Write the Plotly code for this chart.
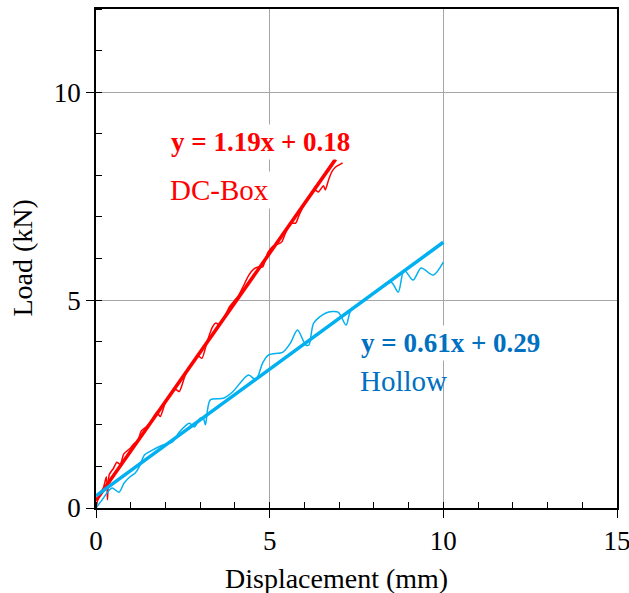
import plotly.graph_objects as go

# DC-Box raw load-displacement data
dcbox_x = [0, 0.1, 0.2, 0.3, 0.33, 0.38, 0.5, 0.6, 0.7, 0.8, 1.0, 1.1, 1.2, 1.3, 1.45, 1.6, 1.75, 1.85,
           2.0, 2.15, 2.3, 2.4, 2.55, 2.65, 2.8, 2.95, 3.05, 3.2, 3.35, 3.45, 3.55, 3.7, 3.85, 4.0, 4.1,
           4.25, 4.4, 4.55, 4.7, 4.8, 4.95, 5.1, 5.25, 5.35, 5.45, 5.6, 5.75, 5.85, 6.0, 6.15, 6.3, 6.4,
           6.55, 6.6, 6.7, 6.8, 6.9, 7.0, 7.1]
dcbox_y = [0, 0.35, 0.45, 0.75, 0.2, 0.8, 0.95, 1.1, 1.05, 1.3, 1.45, 1.55, 1.6, 1.85, 1.95, 2.1, 2.3, 2.2,
           2.55, 2.75, 2.85, 2.8, 3.15, 3.35, 3.5, 3.65, 3.6, 4.0, 4.35, 4.45, 4.4, 4.6, 4.85, 5.0, 5.1,
           5.35, 5.6, 5.75, 5.8, 5.8, 6.15, 6.3, 6.35, 6.4, 6.6, 6.85, 6.85, 7.05, 7.3, 7.5, 7.65, 7.6,
           7.75, 7.65, 7.9, 8.1, 8.2, 8.25, 8.3]

# Hollow raw load-displacement data
hollow_x = [0, 0.17, 0.46, 0.66, 0.81, 0.98, 1.13, 1.27, 1.39, 1.62, 1.91, 2.2, 2.4, 2.69, 2.83, 3.0,
            3.09, 3.15, 3.29, 3.67, 3.93, 4.39, 4.6, 4.8, 4.97, 5.38, 5.6, 5.8, 6.04, 6.13, 6.27, 6.62,
            6.97, 7.2, 7.34, 7.72, 8.12, 8.5, 8.7, 8.87, 9.13, 9.36, 9.71, 10.0]
hollow_y = [0, 0.19, 0.48, 0.38, 0.6, 0.75, 0.84, 1.03, 1.27, 1.39, 1.51, 1.59, 1.83, 2.04, 1.95, 2.16,
            2.16, 2.0, 2.6, 2.64, 2.79, 3.2, 3.08, 3.49, 3.68, 3.75, 3.97, 4.28, 3.92, 3.92, 4.45, 4.69,
            4.71, 4.4, 4.76, 5.0, 5.24, 5.43, 5.19, 5.72, 5.48, 5.77, 5.6, 5.91]

# Linear fits (end points)
dcbox_fit_x = [0, 6.9]
dcbox_fit_y = [0.18, 8.39]
hollow_fit_x = [0, 10]
hollow_fit_y = [0.29, 6.39]

x_ticks = [0, 5, 10, 15]
y_ticks = [0, 5, 10]

RED = "#ff0000"
BLUE = "#00b0f0"
DBLUE = "#0070c0"
FONT = "Liberation Serif"

fig = go.Figure()
fig.add_trace(go.Scatter(x=dcbox_x, y=dcbox_y, mode="lines", line=dict(color=RED, width=1.5, shape="spline", smoothing=0.6)))
fig.add_trace(go.Scatter(x=hollow_x, y=hollow_y, mode="lines", line=dict(color=BLUE, width=1.5, shape="spline", smoothing=0.8)))
fig.add_trace(go.Scatter(x=dcbox_fit_x, y=dcbox_fit_y, mode="lines", line=dict(color=RED, width=3.5)))
fig.add_trace(go.Scatter(x=hollow_fit_x, y=hollow_fit_y, mode="lines", line=dict(color=BLUE, width=3.5)))

axis_common = dict(
    showline=True, linecolor="black", linewidth=1.5, mirror=True,
    showgrid=True, gridcolor="#a6a6a6", gridwidth=1,
    ticks="outside", ticklen=8, tickcolor="black", tickwidth=1,
    zeroline=False,
    tickfont=dict(family=FONT, size=27, color="black"),
    minor=dict(dtick=1, ticks="inside", ticklen=6, tickcolor="black", tickwidth=1, showgrid=False),
    automargin=False,
    ticklabeloverflow="allow",
)

fig.update_xaxes(range=[0, 15], tickvals=x_ticks, **axis_common)
fig.update_yaxes(range=[0, 12], tickvals=y_ticks, **axis_common)

# Axis titles (paper coords relative to the plot area)
fig.add_annotation(x=0.4607, y=-0.1403, xref="paper", yref="paper", text="Displacement (mm)",
                   showarrow=False, xanchor="center", yanchor="middle",
                   font=dict(family=FONT, size=28, color="black"))
fig.add_annotation(x=-0.142, y=0.5, xref="paper", yref="paper", text="Load (kN)",
                   showarrow=False, textangle=-90, xanchor="center", yanchor="middle",
                   font=dict(family=FONT, size=28, color="black"))

fig.add_annotation(x=2.08, y=8.8, xref="x", yref="y", text="<b>y = 1.19x + 0.18</b>", showarrow=False,
                   xanchor="left", font=dict(family=FONT, size=27, color=RED), bgcolor="white", borderpad=2)
fig.add_annotation(x=2.05, y=7.65, xref="x", yref="y", text="DC-Box", showarrow=False,
                   xanchor="left", font=dict(family=FONT, size=29, color=RED), bgcolor="white", borderpad=2)
fig.add_annotation(x=7.55, y=3.97, xref="x", yref="y", text="<b>y = 0.61x + 0.29</b>", showarrow=False,
                   xanchor="left", font=dict(family=FONT, size=27, color=DBLUE), bgcolor="white", borderpad=2)
fig.add_annotation(x=7.55, y=3.05, xref="x", yref="y", text="Hollow", showarrow=False,
                   xanchor="left", font=dict(family=FONT, size=29, color=DBLUE))

fig.update_layout(
    width=629, height=593,
    margin=dict(l=96, r=12, t=9, b=85),
    paper_bgcolor="white", plot_bgcolor="white",
    showlegend=False,
    font=dict(family=FONT, color="black"),
)

fig.write_html("out.html", config={"displayModeBar": False},
               post_script="document.body.style.margin='0';document.body.style.overflow='hidden';")
